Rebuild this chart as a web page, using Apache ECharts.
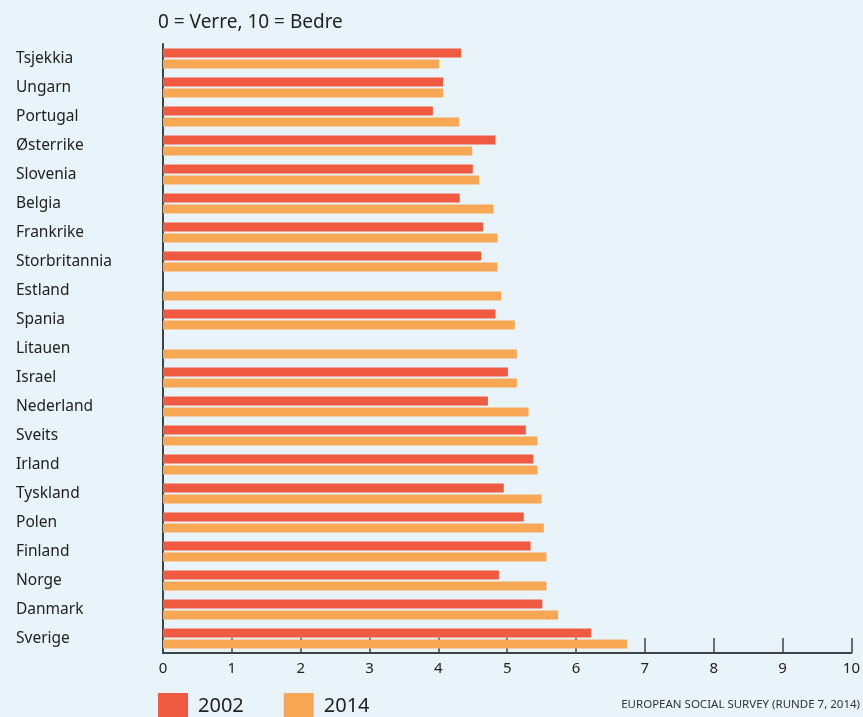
<!DOCTYPE html>
<html>
<head>
<meta charset="utf-8">
<script src="https://cdn.jsdelivr.net/npm/echarts@6/dist/echarts.min.js"></script>
<style>
html,body{margin:0;padding:0;background:#e9f4fa;}
#c{width:863px;height:717px;}
</style>
</head>
<body>
<div id="c"></div>
<script>
const categories = ["Tsjekkia","Ungarn","Portugal","Østerrike","Slovenia","Belgia","Frankrike","Storbritannia","Estland","Spania","Litauen","Israel","Nederland","Sveits","Irland","Tyskland","Polen","Finland","Norge","Danmark","Sverige"];
const values2002 = [4.33,4.07,3.92,4.83,4.50,4.31,4.65,4.62,null,4.83,null,5.01,4.72,5.27,5.38,4.95,5.24,5.34,4.88,5.51,6.22];
const values2014 = [4.01,4.07,4.30,4.49,4.59,4.80,4.86,4.86,4.91,5.11,5.14,5.14,5.31,5.44,5.44,5.50,5.53,5.57,5.57,5.74,6.74];
const xTicks = [0,1,2,3,4,5,6,7,8,9,10];
const seriesNames = ["2002","2014"];

const FONT = "Noto Sans";
const chart = echarts.init(document.getElementById('c'));
chart.setOption({
  backgroundColor: '#e9f4fa',
  animation: false,
  textStyle: {fontFamily: FONT},
  grid: {left: 163, right: 7, top: 44, bottom: 64, containLabel: false},
  title: {
    text: '0 = Verre, 10 = Bedre',
    left: 153, top: 8,
    textStyle: {fontFamily: FONT, fontSize: 19, fontWeight: 'normal', color: '#222'}
  },
  legend: {
    left: 153, top: 688,
    itemWidth: 30, itemHeight: 26, itemGap: 40,
    icon: 'rect',
    textStyle: {fontFamily: FONT, fontSize: 20, color: '#222', padding: [0,0,0,5]},
    data: seriesNames
  },
  xAxis: {
    type: 'value', min: xTicks[0], max: xTicks[xTicks.length-1], interval: 1,
    axisLine: {show: true, lineStyle: {color: '#3d4448', width: 2}},
    axisTick: {show: true, inside: true, length: 15, lineStyle: {color: '#3d4448', width: 1.5}},
    axisLabel: {fontFamily: FONT, fontSize: 15, color: '#222', margin: 8},
    splitLine: {show: false}
  },
  yAxis: {
    type: 'category', data: categories, inverse: true,
    axisLine: {show: true, lineStyle: {color: '#3d4448', width: 2}},
    axisTick: {show: false},
    axisLabel: {fontFamily: FONT, fontSize: 15.5, color: '#222', align: 'left', margin: 147}
  },
  series: [
    {name: seriesNames[0], type: 'bar', data: values2002, barWidth: 9, barGap: '22%',
     itemStyle: {color: '#f05a40'}},
    {name: seriesNames[1], type: 'bar', data: values2014, barWidth: 9, barGap: '22%',
     itemStyle: {color: '#f8a755'}}
  ],
  graphic: [{
    type: 'text', right: 3, top: 699,
    style: {text: 'EUROPEAN SOCIAL SURVEY (RUNDE 7, 2014)', fontFamily: FONT, fontSize: 11.5, fill: '#333'}
  }]
});
</script>
</body>
</html>
